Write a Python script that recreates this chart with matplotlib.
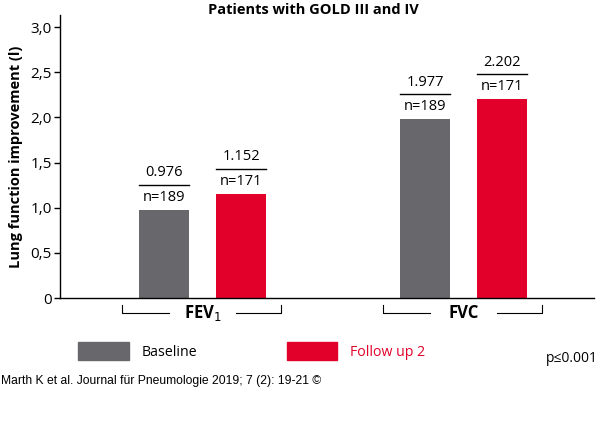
import matplotlib.pyplot as plt
import numpy as np

groups = ['FEV$_1$', 'FVC']
series = ['Baseline', 'Follow up 2']
baseline = [0.976, 1.977]
followup = [1.152, 2.202]
n_base = ['n=189', 'n=189']
n_follow = ['n=171', 'n=171']
yticks = [0, 0.5, 1.0, 1.5, 2.0, 2.5, 3.0]
yticklabels = ['0', '0,5', '1,0', '1,5', '2,0', '2,5', '3,0']

grey = '#68676c'
red = '#e2002a'
font = ['Open Sans', 'DejaVu Sans']

fig = plt.figure(figsize=(6, 4.29), dpi=100)
ax = fig.add_axes([60/600, 131/429, 534/600, 283/429])

x = np.arange(len(groups))
w = 0.19
off = 0.1475
ax.bar(x - off, baseline, w, color=grey)
ax.bar(x + off, followup, w, color=red)

ax.set_xlim(-0.546, 1.5)
ax.set_ylim(0, 3.133)
ax.set_yticks(yticks)
ax.set_yticklabels(yticklabels, family=font, fontsize=11)
ax.set_xticks([])
for s in ['top', 'right']:
    ax.spines[s].set_visible(False)
ax.spines['left'].set_linewidth(1)
ax.spines['bottom'].set_linewidth(1)
ax.tick_params(axis='y', length=4, width=1, pad=2)

ax.set_ylabel('Lung function improvement (l)', family=font, fontsize=10.5,
              fontweight='bold', labelpad=5)
fig.text(313/600, 1 - 10/429, 'Patients with GOLD III and IV', family=font,
         fontsize=10.5, fontweight='bold', ha='center', va='center')

# value / n labels above bars
gap = 0.277
for vals, ns, pos in [(baseline, n_base, x - off), (followup, n_follow, x + off)]:
    for v, n, p in zip(vals, ns, pos):
        ax.plot([p - w/2, p + w/2], [v + gap, v + gap], color='black', lw=1)
        ax.text(p, v + gap/2, n, ha='center', va='center', family=font, fontsize=10.5)
        ax.text(p, v + gap * 1.48, f'{v:.3f}', ha='center', va='center',
                family=font, fontsize=10.5)

# category brackets below axis
tr = ax.get_xaxis_transform()
yb = -15/283
yt = -7/283
for xi, g in zip(x, groups):
    ax.plot([xi - 0.307, xi - 0.307, xi - 0.13], [yt, yb, yb], color='black',
            lw=0.8, transform=tr, clip_on=False)
    ax.plot([xi + 0.13, xi + 0.30, xi + 0.30], [yb, yb, yt], color='black',
            lw=0.8, transform=tr, clip_on=False)
    ax.text(xi, yb, g, ha='center', va='center', family=font, fontsize=12,
            fontweight='bold', transform=tr)

# legend
fig.patches.append(plt.Rectangle((78/600, 1 - 360/429), 51/600, 18/429,
                                 color=grey, transform=fig.transFigure))
fig.text(142/600, 1 - 353/429, series[0], family=font, fontsize=10.2, va='center')
fig.patches.append(plt.Rectangle((287/600, 1 - 360/429), 50/600, 18/429,
                                 color=red, transform=fig.transFigure))
fig.text(350/600, 1 - 353/429, series[1], family=font, fontsize=10.2, va='center',
         color=red)
fig.text(598/600, 1 - 359/429, 'p≤0.001', family=font, fontsize=10,
         va='center', ha='right')

fig.text(1/600, 1 - 381/429, 'Marth K et al. Journal für Pneumologie 2019; 7 (2): 19-21 ©',
         family=['Liberation Sans Narrow', 'Liberation Sans', 'DejaVu Sans'],
         fontsize=8.7, va='center', ha='left')

fig.savefig('out.png', dpi=100)
